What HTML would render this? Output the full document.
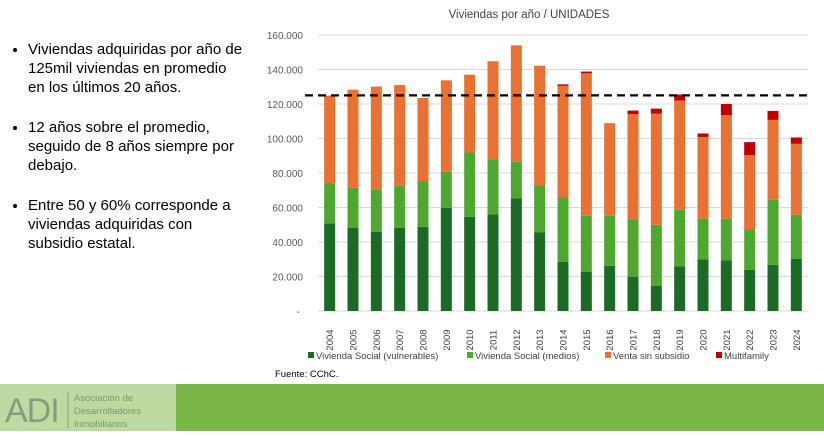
<!DOCTYPE html>
<html><head><meta charset="utf-8"><style>
body{margin:0;width:824px;height:431px;overflow:hidden;background:#fff;font-family:"Liberation Sans",sans-serif;position:relative}
ul{position:absolute;left:8px;top:40px;margin:0;padding-left:20px;width:250px;font-size:15px;line-height:19px;color:#000}
li{margin-bottom:21px;white-space:nowrap}
#footer-left{position:absolute;left:0;top:384px;width:176px;height:47px;background:#bddba0}
#footer-right{position:absolute;left:176px;top:384px;width:648px;height:47px;background:#7ab648}
</style></head><body>
<ul>
<li>Viviendas adquiridas por año de<br>125mil viviendas en promedio<br>en los últimos 20 años.</li>
<li>12 años sobre el promedio,<br>seguido de 8 años siempre por<br>debajo.</li>
<li>Entre 50 y 60% corresponde a<br>viviendas adquiridas con<br>subsidio estatal.</li>
</ul>
<svg id="chart" width="824" height="384" style="position:absolute;left:0;top:0" font-family="Liberation Sans, sans-serif"></svg>
<div id="footer-left">
<svg width="176" height="47">
<text x="5" y="38" font-size="34" fill="#8a9a80" font-family="Liberation Sans, sans-serif" letter-spacing="-1">ADI</text>
<line x1="68" y1="8" x2="68" y2="44" stroke="#8a9a80" stroke-width="1"/>
<text x="74" y="17" font-size="9.5" fill="#7a9a6a">Asociación de</text>
<text x="74" y="30" font-size="9.5" fill="#7a9a6a">Desarrolladores</text>
<text x="74" y="43" font-size="9.5" fill="#7a9a6a">Inmobiliarios</text>
</svg></div>
<div id="footer-right"></div>
<script>
const years=["2004","2005","2006","2007","2008","2009","2010","2011","2012","2013","2014","2015","2016","2017","2018","2019","2020","2021","2022","2023","2024"];
const vulnerables=[50.8,48.3,45.9,48.3,48.8,59.8,54.6,56.0,65.2,45.5,28.6,22.8,26.2,19.9,14.7,25.9,29.9,29.3,23.9,26.8,30.3];
const medios=[23.1,23.1,24.7,24.3,26.5,20.9,37.3,31.8,21.3,27.3,37.2,32.4,29.0,33.2,35.3,32.8,23.6,24.2,23.6,37.7,25.5];
const venta=[51.0,56.9,59.5,58.4,48.2,53.0,45.1,57.0,67.5,69.4,64.7,82.6,53.7,61.0,64.4,63.3,47.4,60.0,42.8,46.3,41.1];
const multifamily=[0,0,0,0,0,0,0,0,0,0,0.9,1.0,0,2.1,2.9,3.5,2.0,6.5,7.6,5.2,3.7];
const yTicks=[0,20,40,60,80,100,120,140,160];
const average=125;
const svg=document.getElementById('chart');const NS='http://www.w3.org/2000/svg';
const x0=318,x1=808,y0=311,yTop=35;
const yS=v=>y0-(v/160)*(y0-yTop);
const step=(x1-x0)/years.length;
const xC=i=>x0+step*(i+0.5);
function mk(t,a){const e=document.createElementNS(NS,t);for(const k in a)e.setAttribute(k,a[k]);svg.appendChild(e);return e;}
let t=mk('text',{x:529,y:18,'font-size':11.5,fill:'#404040','text-anchor':'middle'});t.textContent='Viviendas por año / UNIDADES';


yTicks.forEach(v=>{
 const l=mk('line',{x1:x0,x2:x1,y1:yS(v),y2:yS(v),stroke:'#d9d9d9','stroke-width':1});
 
 
 const tx=mk('text',{x:v===0?300:303,y:yS(v)+4,'font-size':10,fill:'#595959','text-anchor':'end'});
 tx.textContent=v===0?'-':String(v)+'.000';
 
 
});
const series=[[vulnerables,'#1c6b25','vulnerables'],[medios,'#4ea72e','medios'],[venta,'#e97132','venta'],[multifamily,'#c00000','multifamily']];
const bw=11;
years.forEach((yr,i)=>{
 let cum=0;
 series.forEach(([arr,col,nm])=>{
  const v=arr[i];if(v<=0)return;
  const r=mk('rect',{x:xC(i)-bw/2,y:yS(cum+v),width:bw,height:yS(cum)-yS(cum+v),fill:col});
  
  
  cum+=v;
 });
 const lx=xC(i)+3.5,ly=340;
 const tl=mk('text',{x:lx,y:ly,'font-size':9.5,fill:'#404040','text-anchor':'middle',transform:`rotate(-90 ${lx} ${ly})`});
 tl.textContent=yr;
 
 
});
const avg=mk('line',{x1:305,x2:808,y1:yS(average),y2:yS(average),stroke:'#000','stroke-width':2.2,'stroke-dasharray':'8,5'});


const leg=[['Vivienda Social (vulnerables)','#1c6b25',308],['Vivienda Social (medios)','#4ea72e',467],['Venta sin subsidio','#e97132',605],['Multifamily','#c00000',716]];
leg.forEach(([lb,c,x])=>{
 const g=mk('g',{});
 
 
 const r=document.createElementNS(NS,'rect');r.setAttribute('x',x);r.setAttribute('y',352);r.setAttribute('width',6);r.setAttribute('height',6);r.setAttribute('fill',c);g.appendChild(r);
 const tx=document.createElementNS(NS,'text');tx.setAttribute('x',x+8);tx.setAttribute('y',359);tx.setAttribute('font-size',9.5);tx.setAttribute('fill','#404040');tx.textContent=lb;g.appendChild(tx);
});
const src=mk('text',{x:275,y:377,'font-size':9.5,fill:'#000'});src.textContent='Fuente: CChC.';


</script>
</body></html>
